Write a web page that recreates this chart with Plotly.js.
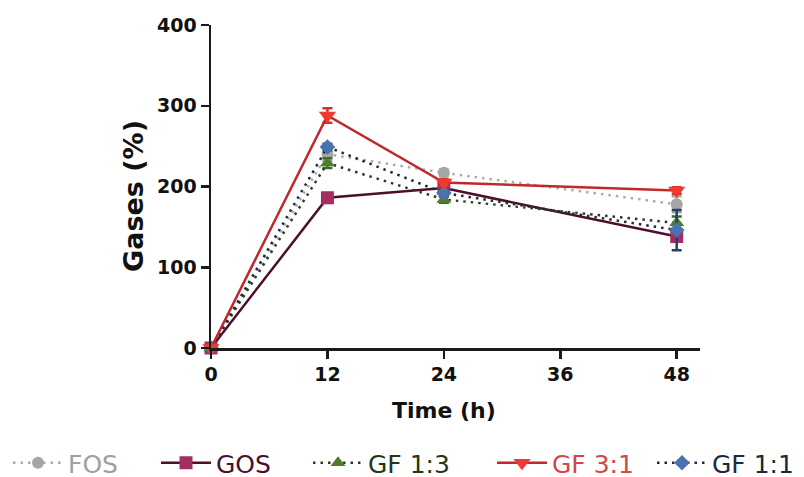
<!DOCTYPE html>
<html><head><meta charset="utf-8">
<script src="https://cdn.plot.ly/plotly-3.0.1.min.js"></script>
<style>body{margin:0;background:#fff}#c{width:804px;height:477px}</style>
</head><body><div id="c"></div>
<script>
const time = [0, 12, 24, 48];
const fos = [0, 240, 217, 178];
const gos = [0, 186, 198, 138];
const gf13 = [0, 229, 184, 155];
const gf31 = [0, 288, 205, 195];
const gf11 = [0, 249, 192, 146];
const fosErr = [0, 8, 4, 10];
const gosErr = [0, 6, 4, 6];
const gf13Err = [0, 6, 4, 8];
const gf31Err = [0, 9, 4, 4];
const gf11Err = [0, 4, 4, 25];
const names = ['FOS', 'GOS', 'GF 1:3', 'GF 3:1', 'GF 1:1'];
const xTicks = [0, 12, 24, 36, 48];
const yTicks = [0, 100, 200, 300, 400];

const W = 804, H = 477;
const PLOT_L = 211, PLOT_W = 489, PLOT_B = 348, PLOT_H = 323;
function px(xpx) { return (xpx - PLOT_L) / PLOT_W; }
const DOTS = '2.5px,5px';

function tr(name, y, err, lineColor, dash, markerColor, errColor, symbol, size, legendId) {
  return {
    x: time, y: y, name: name, type: 'scatter', mode: 'lines+markers', cliponaxis: false,
    line: {color: lineColor, width: 2.5, dash: dash},
    marker: {color: markerColor, symbol: symbol, size: size},
    error_y: {type: 'data', array: err, color: errColor, thickness: 2.5, width: 5},
    legend: legendId
  };
}
const traces = [
  tr(names[0], fos, fosErr, '#ababab', DOTS, '#a6a6a6', '#a6a6a6', 'circle', 12, 'legend'),
  tr(names[1], gos, gosErr, '#4d0f2a', 'solid', '#a32f62', '#a32f62', 'square', 13, 'legend2'),
  tr(names[2], gf13, gf13Err, '#2c3a22', DOTS, '#4f7d2a', '#3d6a20', 'triangle-up', 13, 'legend3'),
  tr(names[4], gf11, gf11Err, '#1e2a3a', DOTS, '#4a72b0', '#27406a', 'diamond', 12, 'legend5'),
  tr(names[3], gf31, gf31Err, '#c0282a', 'solid', '#ee3a30', '#d8302a', 'triangle-down', 15, 'legend4')
];

const legendTextColors = ['#a0a0a0', '#4a1030', '#243818', '#d04848', '#1c2a38'];
const legendStarts = [8, 156, 308, 492, 652];
function leg(i) {
  return {orientation: 'h', xref: 'container', x: legendStarts[i] / W, xanchor: 'left',
    yref: 'container', y: (H - 463) / H, yanchor: 'middle', itemwidth: 50,
    bgcolor: 'rgba(0,0,0,0)',
    font: {family: 'DejaVu Sans', size: 25, color: legendTextColors[i]}};
}

const axisFont = {family: 'DejaVu Sans', size: 19, color: '#111', weight: 'bold'};
const layout = {
  width: W, height: H,
  margin: {l: 211, r: 104, t: 25, b: 129},
  paper_bgcolor: '#fff', plot_bgcolor: '#fff',
  showlegend: true,
  legend: leg(0), legend2: leg(1), legend3: leg(2), legend4: leg(3), legend5: leg(4),
  xaxis: {range: [0, 50.4], tickvals: xTicks, ticktext: xTicks.map(String),
    showline: true, linecolor: '#1a1a1a', linewidth: 2.5, showgrid: false, zeroline: false,
    ticks: 'outside', ticklen: 8, tickwidth: 2.5, tickcolor: '#1a1a1a', tickfont: axisFont},
  yaxis: {range: [0, 400], tickvals: yTicks, ticktext: yTicks.map(String),
    showline: true, linecolor: '#1a1a1a', linewidth: 2.5, showgrid: false, zeroline: false,
    ticks: 'outside', ticklen: 8, tickwidth: 2.5, tickcolor: '#1a1a1a', tickfont: axisFont},
  annotations: [
    {text: 'Time (h)', xref: 'x', x: 24, yref: 'paper', y: (PLOT_B - 410) / PLOT_H, yanchor: 'middle',
     showarrow: false, font: {family: 'DejaVu Sans', size: 22, color: '#111', weight: 'bold'}},
    {text: 'Gases (%)', textangle: -90, xref: 'paper', x: px(133), xanchor: 'center',
     yref: 'paper', y: (PLOT_B - 196) / PLOT_H, yanchor: 'middle',
     showarrow: false, font: {family: 'DejaVu Sans', size: 27, color: '#111', weight: 'bold'}}
  ]
};
Plotly.newPlot('c', traces, layout, {staticPlot: true});
</script></body></html>
